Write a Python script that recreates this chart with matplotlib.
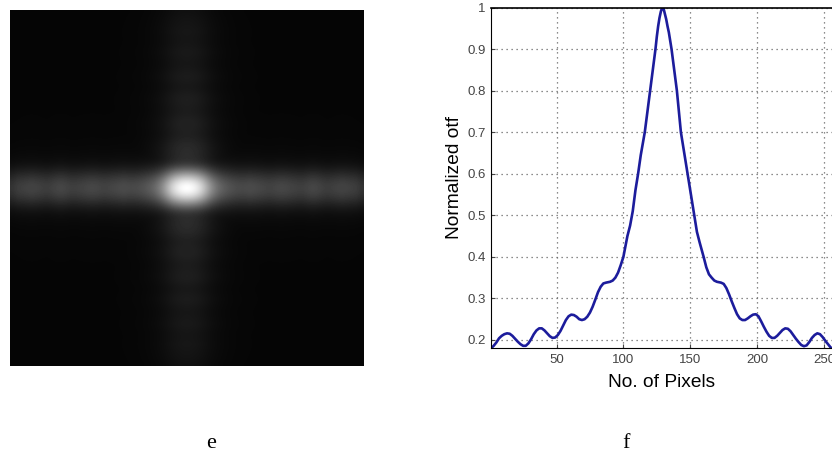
import numpy as np
import matplotlib
matplotlib.use("Agg")
import matplotlib.pyplot as plt

W, H = 832, 457

# curve f
pixels = [1, 3, 5, 7, 9, 11, 13, 15, 17, 19, 21, 23, 25, 27, 29, 31, 33, 35, 37, 39, 41, 43, 45, 47, 49, 51, 53, 55,
          57, 59, 61, 63, 65, 67, 69, 71, 73, 75, 77, 79, 81, 83, 85, 87, 90, 92, 94, 96, 98, 100,
          103, 105, 107, 109, 111, 113, 116, 118, 120, 122, 124, 125, 126, 127, 128, 129, 130, 131, 132, 133, 134,
          136, 138, 140, 143, 145, 148, 150, 153, 155, 157, 160, 162, 164, 166, 168, 170, 173, 175, 177, 179, 181,
          183, 185, 187, 189, 191, 193, 195, 197, 199, 201, 203, 205, 207, 209, 211, 213, 215, 217, 219, 221, 223,
          225, 227, 229, 231, 233, 235, 237, 239, 241, 243, 245, 247, 249, 251, 253, 255, 256]
otf = [0.18, 0.186, 0.194, 0.204, 0.21, 0.214, 0.216, 0.215, 0.21, 0.203, 0.196, 0.19, 0.186, 0.186, 0.192, 0.202,
       0.214, 0.223, 0.228, 0.228, 0.223, 0.216, 0.209, 0.205, 0.206, 0.212, 0.222, 0.235,
       0.248, 0.257, 0.261, 0.26, 0.256, 0.25, 0.248, 0.25, 0.256, 0.266, 0.28, 0.297, 0.315, 0.328, 0.336, 0.338,
       0.34, 0.343, 0.35, 0.362, 0.38, 0.40,
       0.45, 0.475, 0.51, 0.56, 0.60, 0.645, 0.70, 0.75, 0.80, 0.85, 0.90, 0.93, 0.955, 0.975, 0.99, 1.0, 0.998,
       0.985, 0.972, 0.955, 0.94,
       0.90, 0.85, 0.80, 0.70, 0.66, 0.60, 0.56, 0.50, 0.46, 0.435, 0.40, 0.375, 0.358, 0.35, 0.343, 0.34, 0.338,
       0.335, 0.325, 0.31, 0.293, 0.277, 0.262, 0.252, 0.248, 0.248, 0.252, 0.257, 0.261, 0.262, 0.257, 0.245,
       0.232, 0.22, 0.21, 0.205, 0.205, 0.21, 0.217, 0.224, 0.228, 0.227, 0.221, 0.212, 0.203, 0.195, 0.188, 0.185,
       0.187, 0.195, 0.205, 0.212, 0.216, 0.214, 0.207, 0.198, 0.19, 0.182, 0.18]

# image e: brightness along the two arms, centre outwards, and across them
arm_h = [1.0, 0.98, 0.92, 0.82, 0.68, 0.54, 0.44, 0.37, 0.33, 0.30, 0.28, 0.27, 0.27, 0.28, 0.27, 0.26, 0.25, 0.24,
         0.25, 0.26, 0.26, 0.25, 0.24, 0.23, 0.23, 0.25, 0.26, 0.25, 0.23, 0.22, 0.23, 0.24, 0.25, 0.24, 0.23, 0.22, 0.18]
arm_v = [1.0, 0.86, 0.58, 0.32, 0.20, 0.165, 0.155, 0.155, 0.15, 0.14, 0.12, 0.105, 0.11, 0.115, 0.11, 0.095, 0.09, 0.095,
         0.10, 0.095, 0.08, 0.075, 0.085, 0.09, 0.08, 0.07, 0.07, 0.075, 0.08, 0.07, 0.065, 0.065, 0.07, 0.065, 0.06, 0.055, 0.045]
across_h = [1.0, 0.94, 0.78, 0.56, 0.35, 0.20, 0.12, 0.08, 0.055, 0.04, 0.03, 0.025, 0.02, 0.02, 0.015, 0.015, 0.01, 0.01,
            0.01, 0.01, 0.01, 0.01, 0.01, 0.01, 0.005, 0.005, 0.005, 0.005, 0.005, 0.005, 0.005, 0.005, 0.005, 0.005,
            0.005, 0.0, 0.0]
across_v = [1.0, 0.97, 0.90, 0.78, 0.63, 0.48, 0.36, 0.27, 0.20, 0.15, 0.11, 0.09, 0.07, 0.055, 0.045, 0.035, 0.03, 0.025,
            0.02, 0.02, 0.015, 0.015, 0.01, 0.01, 0.01, 0.01, 0.005, 0.005, 0.005, 0.005, 0.005, 0.005, 0.005, 0.005,
            0.0, 0.0, 0.0]
background = 0.02

fig = plt.figure(figsize=(W / 100, H / 100), dpi=100, facecolor="white")
plt.rcParams["font.family"] = ["Liberation Sans", "DejaVu Sans"]


def box(left, top, right, bottom):
    return [left / W, 1 - bottom / H, (right - left) / W, (bottom - top) / H]


# left panel
half_h = np.array(arm_h)
half_v = np.array(arm_v)
row = np.concatenate([half_h[:0:-1], half_h])
col = np.concatenate([half_v[:0:-1], half_v])
row_across = np.concatenate([np.array(across_h)[:0:-1], across_h])
col_across = np.concatenate([np.array(across_v)[:0:-1], across_v])
img = np.maximum(np.outer(row_across, row), np.outer(col, col_across)) + background

ax1 = fig.add_axes(box(10, 10, 364, 366))
ax1.imshow(img, cmap="gray", vmin=0, vmax=1, interpolation="bicubic", aspect="auto")
ax1.axis("off")

# right panel
ax2 = fig.add_axes(box(491, 7.5, 832, 348.3))
ax2.plot(pixels, otf, color="#1c1c9c", lw=1.9)
ax2.set_xlim(1, 256)
ax2.set_ylim(0.18, 1)
ax2.set_xticks([50, 100, 150, 200, 250])
ax2.set_yticks([0.2, 0.3, 0.4, 0.5, 0.6, 0.7, 0.8, 0.9, 1])
ax2.set_yticklabels(["0.2", "0.3", "0.4", "0.5", "0.6", "0.7", "0.8", "0.9", "1"])
ax2.grid(True, color="#666666", ls=(0, (1, 3)), lw=0.9)
ax2.tick_params(direction="in", length=3, width=0.8, labelsize=9.5, colors="#444444", pad=4)
ax2.spines["right"].set_visible(False)
ax2.spines["top"].set_linewidth(1.2)
ax2.set_xlabel("No. of Pixels", fontsize=13.8, labelpad=6)
ax2.set_ylabel("Normalized otf", fontsize=13.8)
ax2.yaxis.set_label_coords((463 - 491) / 341, 0.5)

fig.text(211 / W, 1 - 444 / H, "e", family="Liberation Serif", fontsize=16, ha="center", va="center")
fig.text(626 / W, 1 - 444 / H, "f", family="Liberation Serif", fontsize=16, ha="center", va="center")

fig.savefig("out.png", dpi=100)
